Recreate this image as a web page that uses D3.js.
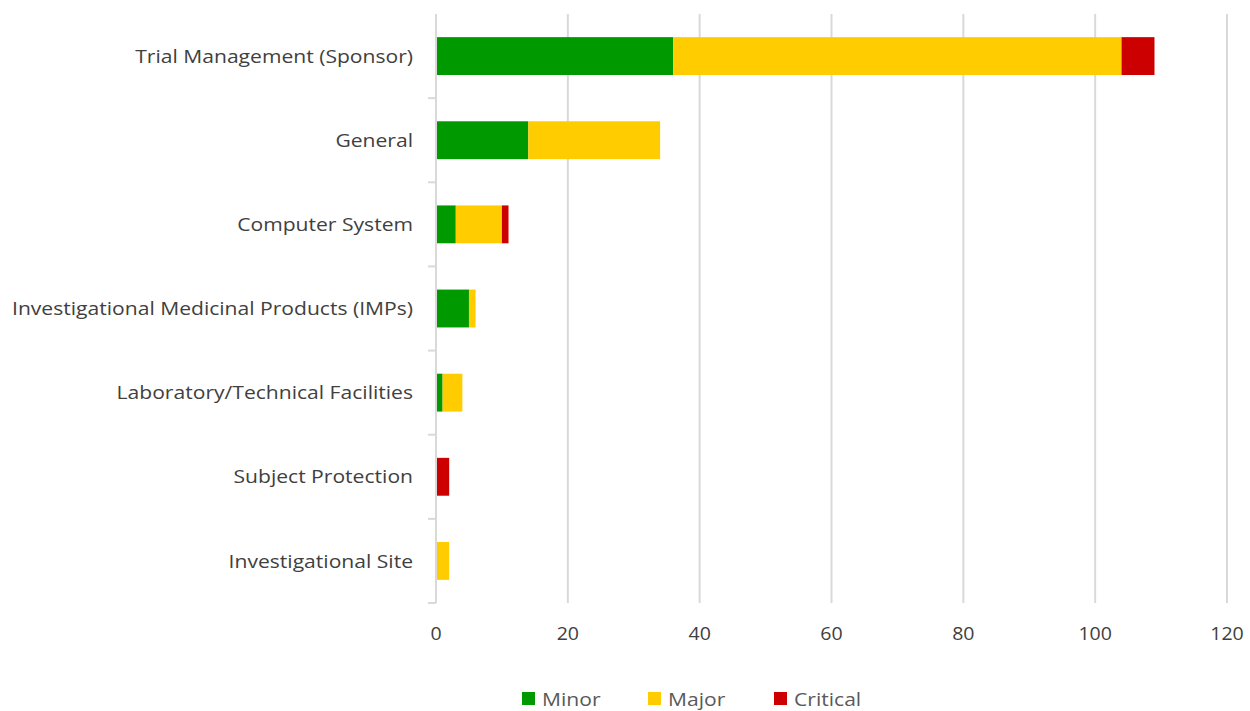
<!DOCTYPE html>
<html><head><meta charset="utf-8">
<script src="https://cdn.jsdelivr.net/npm/d3@7"></script>
<style>body{margin:0;background:#fff}</style>
</head><body>
<svg id="c" width="1250" height="711"></svg>
<script>
const categories = ["Trial Management (Sponsor)","General","Computer System","Investigational Medicinal Products (IMPs)","Laboratory/Technical Facilities","Subject Protection","Investigational Site"];
const minor = [36,14,3,5,1,0,0];
const major = [68,20,7,1,3,0,2];
const critical = [5,0,1,0,0,2,0];
const seriesNames = ["Minor","Major","Critical"];
const colors = ["#009900","#ffcc00","#cc0000"];
const xTicks = [0,20,40,60,80,100,120];

const svg = d3.select("#c");
const font = "'Open Sans', sans-serif";
const sx = 1.11;
const m = {l:436, r:1227, t:14, b:603};
const x = d3.scaleLinear().domain([0,120]).range([m.l,m.r]);
const y = d3.scaleBand().domain(categories).range([m.t,m.b]).paddingInner(0.55).paddingOuter(0.275);

// gridlines
svg.append("g").selectAll("line").data(xTicks.slice(1)).join("line")
  .attr("x1",d=>x(d)).attr("x2",d=>x(d)).attr("y1",m.t).attr("y2",m.b)
  .attr("stroke","#d9d9d9").attr("stroke-width",2);

const rows = categories.map((c,i)=>({c, Minor:minor[i], Major:major[i], Critical:critical[i]}));
const stack = d3.stack().keys(seriesNames)(rows);
svg.append("g").selectAll("g").data(stack).join("g").attr("fill",(d,i)=>colors[i])
  .selectAll("rect").data(d=>d.filter(s=>s[1]-s[0]>0)).join("rect")
  .attr("x",d=>x(d[0])).attr("width",d=>x(d[1])-x(d[0]))
  .attr("y",d=>y(d.data.c)).attr("height",y.bandwidth());

// y axis line and ticks
const band = (m.b-m.t)/categories.length;
svg.append("line").attr("x1",m.l).attr("x2",m.l).attr("y1",m.t).attr("y2",m.b)
  .attr("stroke","#d9d9d9").attr("stroke-width",2);
svg.append("g").selectAll("line").data(d3.range(1,categories.length+1)).join("line")
  .attr("x1",m.l-8).attr("x2",m.l).attr("y1",d=>m.t+d*band).attr("y2",d=>m.t+d*band)
  .attr("stroke","#d9d9d9").attr("stroke-width",2);

// category labels
svg.append("g").selectAll("text").data(categories).join("text")
  .attr("transform",d=>`translate(413,${y(d)+y.bandwidth()/2}) scale(${sx},1)`).attr("dy","0.35em")
  .attr("text-anchor","end").attr("font-family",font).attr("font-size",19)
  .attr("fill","#404040").text(d=>d);

// x tick labels
svg.append("g").selectAll("text").data(xTicks).join("text")
  .attr("transform",d=>`translate(${x(d)},633) scale(1.03,1)`).attr("dy","0.35em").attr("text-anchor","middle")
  .attr("font-family",font).attr("font-size",19).attr("fill","#404040").text(d=>d);

// legend
const lx = [522,648,774];
const lg = svg.append("g").selectAll("g").data(seriesNames).join("g")
  .attr("transform",(d,i)=>`translate(${lx[i]},699)`);
lg.append("rect").attr("x",0).attr("y",-7).attr("width",13).attr("height",13).attr("fill",(d,i)=>colors[i]);
lg.append("text").attr("transform",`translate(20,0) scale(${sx},1)`).attr("dy","0.35em").attr("font-family",font)
  .attr("font-size",19).attr("fill","#595959").text(d=>d);
</script>
</body></html>
